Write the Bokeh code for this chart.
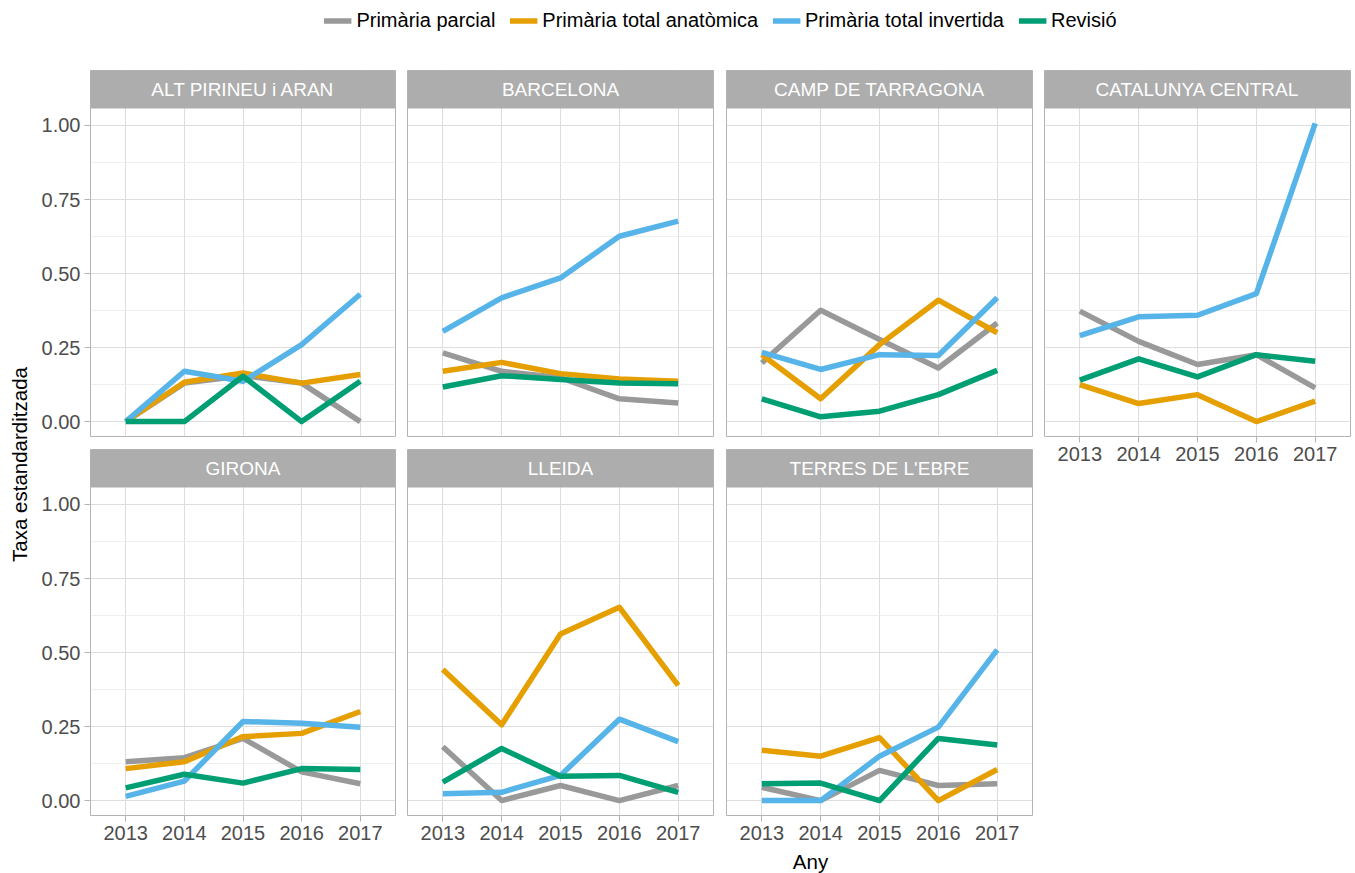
import math

from bokeh.plotting import figure
from bokeh.layouts import column, row
from bokeh.models import (FixedTicker, Range1d, Label, Legend, LegendItem,
                          PrintfTickFormatter)
from bokeh.embed import file_html
from bokeh.resources import INLINE

# ---------------------------------------------------------------- data
years = [2013, 2014, 2015, 2016, 2017]

regions = ["ALT PIRINEU i ARAN", "BARCELONA", "CAMP DE TARRAGONA",
           "CATALUNYA CENTRAL", "GIRONA", "LLEIDA", "TERRES DE L'EBRE"]

series = ["Primària parcial", "Primària total anatòmica",
          "Primària total invertida", "Revisió"]
series_colors = ["#999999", "#E69F00", "#56B4E9", "#009E73"]

# taxa estandarditzada per regió, 2013-2017
parcial = {
    "ALT PIRINEU i ARAN": [0.0, 0.13, 0.155, 0.13, 0.0],
    "BARCELONA": [0.232, 0.17, 0.148, 0.077, 0.063],
    "CAMP DE TARRAGONA": [0.198, 0.376, 0.277, 0.181, 0.333],
    "CATALUNYA CENTRAL": [0.373, 0.271, 0.193, 0.226, 0.114],
    "GIRONA": [0.131, 0.145, 0.21, 0.097, 0.057],
    "LLEIDA": [0.182, 0.0, 0.051, 0.0, 0.051],
    "TERRES DE L'EBRE": [0.045, 0.0, 0.102, 0.051, 0.057],
}
anatomica = {
    "ALT PIRINEU i ARAN": [0.0, 0.133, 0.164, 0.13, 0.159],
    "BARCELONA": [0.17, 0.2, 0.162, 0.144, 0.136],
    "CAMP DE TARRAGONA": [0.226, 0.077, 0.26, 0.41, 0.3],
    "CATALUNYA CENTRAL": [0.125, 0.061, 0.091, 0.0, 0.069],
    "GIRONA": [0.108, 0.131, 0.216, 0.227, 0.301],
    "LLEIDA": [0.443, 0.256, 0.5625, 0.653, 0.389],
    "TERRES DE L'EBRE": [0.17, 0.15, 0.2125, 0.0, 0.105],
}
invertida = {
    "ALT PIRINEU i ARAN": [0.0, 0.17, 0.136, 0.26, 0.43],
    "BARCELONA": [0.305, 0.418, 0.485, 0.626, 0.677],
    "CAMP DE TARRAGONA": [0.234, 0.176, 0.226, 0.223, 0.418],
    "CATALUNYA CENTRAL": [0.29, 0.354, 0.359, 0.432, 1.007],
    "GIRONA": [0.014, 0.066, 0.267, 0.261, 0.248],
    "LLEIDA": [0.023, 0.028, 0.085, 0.275, 0.199],
    "TERRES DE L'EBRE": [0.0, 0.0, 0.15, 0.248, 0.509],
}
revisio = {
    "ALT PIRINEU i ARAN": [0.0, 0.0, 0.153, 0.0, 0.136],
    "BARCELONA": [0.117, 0.155, 0.142, 0.13, 0.128],
    "CAMP DE TARRAGONA": [0.077, 0.016, 0.035, 0.091, 0.173],
    "CATALUNYA CENTRAL": [0.14, 0.212, 0.151, 0.226, 0.204],
    "GIRONA": [0.043, 0.089, 0.059, 0.108, 0.105],
    "LLEIDA": [0.0625, 0.176, 0.082, 0.085, 0.028],
    "TERRES DE L'EBRE": [0.057, 0.059, 0.0, 0.21, 0.1875],
}
series_data = [parcial, anatomica, invertida, revisio]

y_major = [0.0, 0.25, 0.5, 0.75, 1.0]
y_minor = [0.125, 0.375, 0.625, 0.875]

# ---------------------------------------------------------------- styling
FONT = "Liberation Sans"
BORDER = "#B3B3B3"
STRIP = "#ADADAD"
GRID_MAJOR = "#DEDEDE"
GRID_MINOR = "#EBEBEB"
TICK_TEXT = "#4D4D4D"
LINE_W = 5.5

PANEL_W = 306
PANEL_H = 328
STRIP_H = 38

# shared scales: discrete-like x with 0.6 padding, y expanded by 5 %
x_lo, x_hi = years[0] - 0.6, years[-1] + 0.6
y_max = max(max(v) for d in series_data for v in d.values())
y_min = 0.0
pad = 0.05 * (y_max - y_min)
y_lo, y_hi = y_min - pad, y_max + pad
y_top = y_hi + (y_hi - y_lo) * STRIP_H / PANEL_H


def style_axis(ax):
    ax.axis_line_color = None
    ax.major_tick_line_color = BORDER
    ax.major_tick_out = 6
    ax.major_tick_in = 0
    ax.minor_tick_line_color = None
    ax.major_label_text_font = FONT
    ax.major_label_text_font_size = "20px"
    ax.major_label_text_color = TICK_TEXT
    ax.major_label_standoff = 4


def make_panel(region, left_axis, bottom_axis, borders, frame_w=PANEL_W):
    top, right, bottom, left = borders
    p = figure(frame_width=frame_w, frame_height=PANEL_H + STRIP_H,
               x_range=Range1d(x_lo, x_hi), y_range=Range1d(y_lo, y_top),
               x_axis_location="below" if bottom_axis else None,
               y_axis_location="left" if left_axis else None,
               min_border_top=top, min_border_right=right,
               min_border_bottom=bottom, min_border_left=left,
               output_backend="svg", toolbar_location=None)
    p.background_fill_color = "white"
    p.border_fill_color = "white"
    p.outline_line_color = BORDER
    p.outline_line_width = 1

    p.xgrid.ticker = FixedTicker(ticks=years)
    p.xgrid.grid_line_color = GRID_MAJOR
    p.xgrid.grid_line_width = 1
    p.ygrid.ticker = FixedTicker(ticks=y_major, minor_ticks=y_minor)
    p.ygrid.grid_line_color = GRID_MAJOR
    p.ygrid.grid_line_width = 1
    p.ygrid.minor_grid_line_color = GRID_MINOR
    p.ygrid.minor_grid_line_width = 0.8

    for data, color in zip(series_data, series_colors):
        p.line(years, data[region], line_color=color, line_width=LINE_W,
               line_join="round")

    # facet strip
    p.quad(left=[x_lo], right=[x_hi], bottom=[y_hi], top=[y_top],
           fill_color=STRIP, line_color=None)
    p.add_layout(Label(x=(x_lo + x_hi) / 2, y=(y_hi + y_top) / 2, text=region,
                       text_align="center", text_baseline="middle",
                       text_color="white", text_font=FONT,
                       text_font_size="19px"))

    if left_axis:
        ax = p.yaxis[0]
        ax.ticker = FixedTicker(ticks=y_major)
        ax.formatter = PrintfTickFormatter(format="%.2f")
        style_axis(ax)
    if bottom_axis:
        ax = p.xaxis[0]
        ax.ticker = FixedTicker(ticks=years)
        style_axis(ax)
    return p


# (top, right, bottom, left) borders for each facet
p1 = make_panel(regions[0], True, False, (30, 6, 6, 54), frame_w=305)
p2 = make_panel(regions[1], False, False, (30, 6, 6, 6))
p3 = make_panel(regions[2], False, False, (30, 6, 6, 7))
p4 = make_panel(regions[3], False, True, (30, 5, 34, 6))
p5 = make_panel(regions[4], True, True, (7, 6, 34, 54), frame_w=305)
p6 = make_panel(regions[5], False, True, (7, 6, 34, 6))
p7 = make_panel(regions[6], False, True, (7, 6, 34, 7))

# ---------------------------------------------------------------- legend
lg = figure(frame_width=1260, frame_height=40, min_border_left=90,
            min_border_right=5, min_border_top=0, min_border_bottom=0,
            x_range=Range1d(0, 1), y_range=Range1d(0, 1),
            x_axis_location=None, y_axis_location=None,
            output_backend="svg", toolbar_location=None)
lg.outline_line_color = None
lg.grid.visible = False
items = []
nan = float("nan")
for name, color in zip(series, series_colors):
    # key-only renderer: nothing is drawn in the frame, only the legend swatch
    r = lg.line(x=[nan, nan], y=[nan, nan], line_color=color, line_width=LINE_W)
    items.append(LegendItem(label=name, renderers=[r]))
legend = Legend(items=items, orientation="horizontal", location="center",
                border_line_color=None, background_fill_alpha=0,
                label_text_font=FONT, label_text_font_size="20px",
                label_text_color="black", glyph_width=28, glyph_height=20,
                label_standoff=5, spacing=14, padding=0, margin=0)
lg.add_layout(legend, "center")

# ---------------------------------------------------------------- axis titles
yl = figure(frame_width=36, frame_height=745, min_border_top=30,
            min_border_left=0, min_border_right=0, min_border_bottom=0,
            x_range=Range1d(0, 36), y_range=Range1d(815, 70),
            x_axis_location=None, y_axis_location=None,
            output_backend="svg", toolbar_location=None)
yl.outline_line_color = None
yl.grid.visible = False
yl.add_layout(Label(x=19, y=464, text="Taxa estandarditzada", angle=math.pi / 2,
                    text_align="center", text_baseline="middle",
                    text_color="black", text_font=FONT, text_font_size="20.5px"))

xl = figure(frame_width=1355, frame_height=24, min_border=0,
            x_range=Range1d(0, 1355), y_range=Range1d(0, 1),
            x_axis_location=None, y_axis_location=None,
            output_backend="svg", toolbar_location=None)
xl.outline_line_color = None
xl.grid.visible = False
xl.add_layout(Label(x=720, y=0.5, text="Any", text_align="center",
                    text_baseline="middle", text_color="black",
                    text_font=FONT, text_font_size="20.5px"))

body = row(yl, column(p1, p5), column(p2, p6), column(p3, p7), column(p4))
page = column(lg, body, xl)

with open("out.html", "w") as f:
    f.write(file_html(page, INLINE))
